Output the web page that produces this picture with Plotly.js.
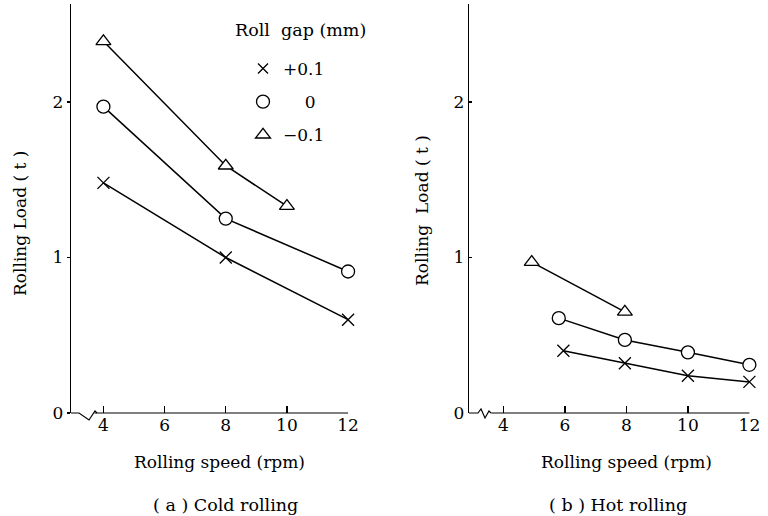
<!DOCTYPE html>
<html>
<head>
<meta charset="utf-8">
<script src="https://cdn.plot.ly/plotly-3.0.1.min.js"></script>
<style>
html, body { margin: 0; padding: 0; background: #fff; }
#chart { width: 768px; height: 516px; }
</style>
</head>
<body>
<div id="chart"></div>
<script>
// ---- data ----
const legendTitle = "Roll\u00a0\u00a0gap (mm)";
const seriesNames = ["+0.1", "\u2007\u20070", "\u22120.1"];
const seriesSymbols = ["x-thin", "circle", "triangle-up"];

// (a) Cold rolling
const coldSpeedPlus = [4, 8, 12];
const coldLoadPlus = [1.48, 1.00, 0.60];
const coldSpeedZero = [4, 8, 12];
const coldLoadZero = [1.97, 1.25, 0.91];
const coldSpeedMinus = [4, 8, 10];
const coldLoadMinus = [2.39, 1.59, 1.33];

// (b) Hot rolling
const hotSpeedPlus = [5.95, 7.95, 10, 12];
const hotLoadPlus = [0.40, 0.32, 0.24, 0.20];
const hotSpeedZero = [5.8, 7.95, 10, 12];
const hotLoadZero = [0.61, 0.47, 0.39, 0.31];
const hotSpeedMinus = [4.92, 7.95];
const hotLoadMinus = [0.97, 0.65];

const xTicks = [4, 6, 8, 10, 12];
const yTicks = [0, 1, 2];

// ---- layout geometry ----
const W = 768, H = 516;
const FONT = "DejaVu Serif";
const leftDom = [71 / W, 349 / W];
const rightDom = [469 / W, 750 / W];
const yDom = [(H - 413) / H, (H - 4) / H];
const leftRange = [2.94, 12.03];
const rightRange = [2.88, 12.02];
const yRange = [0, 2.63];

function markerFor(i, legend) {
  const sym = seriesSymbols[i];
  if (sym === "x-thin") {
    return { symbol: "x-thin", size: legend ? 10 : 12, color: "#000", line: { color: "#000", width: 1.3 } };
  }
  return { symbol: sym, size: 13, color: "#fff", line: { color: "#000", width: 1.3 } };
}

function seriesTrace(x, y, i, xa, ya) {
  return {
    x: x, y: y, xaxis: xa, yaxis: ya,
    type: "scatter", mode: "lines+markers",
    line: { color: "#000", width: 1.5 },
    marker: markerFor(i, false),
    cliponaxis: false, showlegend: false, hoverinfo: "x+y"
  };
}

const traces = [
  seriesTrace(coldSpeedPlus, coldLoadPlus, 0, "x", "y"),
  seriesTrace(coldSpeedZero, coldLoadZero, 1, "x", "y"),
  seriesTrace(coldSpeedMinus, coldLoadMinus, 2, "x", "y"),
  seriesTrace(hotSpeedPlus, hotLoadPlus, 0, "x2", "y2"),
  seriesTrace(hotSpeedZero, hotLoadZero, 1, "x2", "y2"),
  seriesTrace(hotSpeedMinus, hotLoadMinus, 2, "x2", "y2")
];
// legend entries (markers only)
seriesNames.forEach((name, i) => {
  traces.push({
    x: [null], y: [null], xaxis: "x", yaxis: "y",
    type: "scatter", mode: "markers", name: name,
    marker: markerFor(i, true), legendgroup: "g" + i, showlegend: true
  });
});

function xAxis(dom, range, anchor) {
  return {
    domain: dom, range: range, anchor: anchor,
    tickmode: "array", tickvals: xTicks, ticktext: xTicks.map(String),
    ticks: "inside", ticklen: 7, tickwidth: 1.2, tickcolor: "#000",
    showline: false, showgrid: false, zeroline: false,
    tickfont: { family: FONT, size: 17, color: "#000" }
  };
}
function yAxis(range, anchor, tickdir) {
  return {
    domain: yDom, range: range, anchor: anchor,
    tickmode: "array", tickvals: yTicks, ticktext: yTicks.map(String),
    ticks: tickdir, ticklen: 3, tickwidth: 1.2, tickcolor: "#000",
    showline: true, linecolor: "#000", linewidth: 1.2,
    showgrid: false, zeroline: false,
    tickfont: { family: FONT, size: 17, color: "#000" }
  };
}

// pixel -> paper helpers for the axis-break decoration
const px = v => v / W;
const py = v => 1 - v / H;
function pathFrom(points) {
  return points.map((p, k) => (k ? "L" : "M") + px(p[0]).toFixed(5) + "," + py(p[1]).toFixed(5)).join(" ");
}

const shapes = [
  // left axis break
  { type: "path", xref: "paper", yref: "paper",
    path: pathFrom([[71, 413], [79, 413], [89, 420], [95, 411], [97, 413]]),
    line: { color: "#000", width: 1.2 } },
  { type: "line", xref: "x", yref: "paper", x0: 3.71, x1: 12, y0: yDom[0], y1: yDom[0],
    line: { color: "#000", width: 1.2 } },
  // right axis break
  { type: "path", xref: "paper", yref: "paper",
    path: pathFrom([[469, 413], [478, 413], [481, 409], [485, 418], [489, 411], [491, 413]]),
    line: { color: "#000", width: 1.2 } },
  { type: "line", xref: "x2", yref: "paper", x0: 3.6, x1: 12, y0: yDom[0], y1: yDom[0],
    line: { color: "#000", width: 1.2 } }
];

function ann(text, x, y, size, angle) {
  return {
    text: text, xref: "paper", yref: "paper", x: px(x), y: py(y),
    xanchor: "center", yanchor: "middle", showarrow: false,
    textangle: angle || 0,
    font: { family: FONT, size: size, color: "#000" }
  };
}

const annotations = [
  ann(legendTitle, 300, 30, 17.5),
  ann("Rolling speed (rpm)", 219, 462, 17),
  ann("Rolling speed (rpm)", 626, 462, 17),
  ann("( a ) Cold rolling", 225, 505, 17.5),
  ann("( b ) Hot rolling", 618, 505, 17.5),
  ann("Rolling Load ( t )", 20, 224, 17, -90),
  ann("Rolling\u00a0\u00a0Load ( t )", 422, 211, 17, -90)
];

const layout = {
  width: W, height: H,
  margin: { l: 0, r: 0, t: 0, b: 0 },
  paper_bgcolor: "#fff", plot_bgcolor: "#fff",
  font: { family: FONT, size: 17, color: "#000" },
  xaxis: xAxis(leftDom, leftRange, "y"),
  yaxis: yAxis(yRange, "x", "outside"),
  xaxis2: xAxis(rightDom, rightRange, "y2"),
  yaxis2: yAxis(yRange, "x2", "inside"),
  showlegend: true,
  legend: {
    x: px(243), y: py(51), xanchor: "left", yanchor: "top",
    bgcolor: "rgba(0,0,0,0)", borderwidth: 0,
    font: { family: FONT, size: 17, color: "#000" },
    tracegroupgap: 8, itemsizing: "trace"
  },
  shapes: shapes,
  annotations: annotations
};

Plotly.newPlot("chart", traces, layout, { staticPlot: true, displayModeBar: false });
</script>
</body>
</html>
